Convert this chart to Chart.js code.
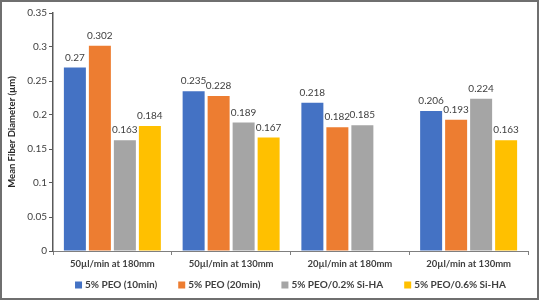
<!DOCTYPE html>
<html>
<head>
<meta charset="utf-8">
<script src="https://cdn.jsdelivr.net/npm/chart.js@4.4.1/dist/chart.umd.min.js"></script>
<style>
  html, body { margin: 0; padding: 0; background: #fff; }
  #wrap { width: 539px; height: 300px; position: relative; }
</style>
</head>
<body>
<div id="wrap"><canvas id="chart" width="539" height="300"></canvas></div>
<script>
const categories = ["50µl/min at 180mm", "50µl/min at 130mm", "20µl/min at 180mm", "20µl/min at 130mm"];
const seriesNames = ["5% PEO (10min)", "5% PEO (20min)", "5% PEO/0.2% Si-HA", "5% PEO/0.6% Si-HA"];
const peo10 = [0.27, 0.235, 0.218, 0.206];
const peo20 = [0.302, 0.228, 0.182, 0.193];
const siha02 = [0.163, 0.189, 0.185, 0.224];
const siha06 = [0.184, 0.167, null, 0.163];
const yTicks = [0, 0.05, 0.1, 0.15, 0.2, 0.25, 0.3, 0.35];

const colors = ["#4472C4", "#ED7D31", "#A5A5A5", "#FFC000"];
const fontFamily = "Lato, 'Open Sans', sans-serif";

// draws the value above each bar
const valueLabels = {
  id: "valueLabels",
  afterDatasetsDraw(chart) {
    const { ctx } = chart;
    ctx.save();
    ctx.font = "10px " + fontFamily;
    ctx.fillStyle = "#404040";
    ctx.textAlign = "center";
    ctx.textBaseline = "middle";
    chart.data.datasets.forEach((ds, i) => {
      chart.getDatasetMeta(i).data.forEach((bar, j) => {
        const v = ds.data[j];
        if (v === null || v === undefined) return;
        ctx.fillText(String(v), bar.x, bar.y - 10);
      });
    });
    ctx.restore();
  },
};

// legend in one row under the axis, Excel style spacing
const bottomLegend = {
  id: "bottomLegend",
  afterDraw(chart) {
    const { ctx, chartArea } = chart;
    const box = 7, gapText = 3, gapItem = 21, y = 285;
    ctx.save();
    ctx.font = "bold 10px " + fontFamily;
    ctx.textBaseline = "middle";
    ctx.textAlign = "left";
    const items = chart.data.datasets.map((ds) => ({
      text: ds.label,
      color: ds.backgroundColor,
      w: box + gapText + ctx.measureText(ds.label).width,
    }));
    const total = items.reduce((a, it) => a + it.w, 0) + gapItem * (items.length - 1);
    let x = (chartArea.left + chartArea.right) / 2 - total / 2;
    items.forEach((it) => {
      ctx.fillStyle = it.color;
      ctx.fillRect(x, y - box / 2, box, box);
      ctx.fillStyle = "#404040";
      ctx.fillText(it.text, x + box + gapText, y);
      x += it.w + gapItem;
    });
    ctx.restore();
  },
};

// grey frame round the picture
const frame = {
  id: "frame",
  afterDraw(chart) {
    const { ctx } = chart;
    ctx.save();
    ctx.strokeStyle = "#6f6f6f";
    ctx.lineWidth = 2;
    ctx.strokeRect(1, 1, chart.width - 2, chart.height - 2);
    ctx.restore();
  },
};

new Chart(document.getElementById("chart").getContext("2d"), {
  type: "bar",
  data: {
    labels: categories,
    datasets: [peo10, peo20, siha02, siha06].map((d, i) => ({
      label: seriesNames[i],
      data: d,
      backgroundColor: colors[i],
      borderWidth: 0,
      categoryPercentage: 0.842,
      barPercentage: 0.88,
    })),
  },
  options: {
    responsive: false,
    animation: false,
    layout: { padding: { top: 13, right: 11, left: 0, bottom: 27 } },
    plugins: {
      tooltip: { enabled: false },
      legend: { display: false },
    },
    scales: {
      x: {
        afterFit: (s) => { s.height = 22; },
        border: { color: "#7f7f7f", width: 1 },
        grid: { display: true, drawOnChartArea: false, drawTicks: true, tickLength: 4, color: "#7f7f7f", offset: true },
        ticks: { color: "#404040", padding: 3, font: { family: fontFamily, size: 9.5, weight: "bold" } },
      },
      y: {
        min: 0,
        max: 0.35,
        afterFit: (s) => { s.width = 53; },
        afterBuildTicks: (s) => { s.ticks = yTicks.map((v) => ({ value: v })); },
        border: { color: "#595959", width: 1.5 },
        grid: { display: true, drawOnChartArea: false, drawTicks: true, tickLength: 4, color: "#595959" },
        ticks: {
          color: "#404040",
          padding: 2,
          font: { family: fontFamily, size: 10 },
          callback: (v) => String(v),
        },
        title: {
          display: true,
          text: "Mean Fiber Diameter (µm)",
          color: "#262626",
          padding: { top: 6, bottom: 0 },
          font: { family: fontFamily, size: 9.5, weight: "bold" },
        },
      },
    },
  },
  plugins: [valueLabels, bottomLegend, frame],
});
</script>
</body>
</html>
